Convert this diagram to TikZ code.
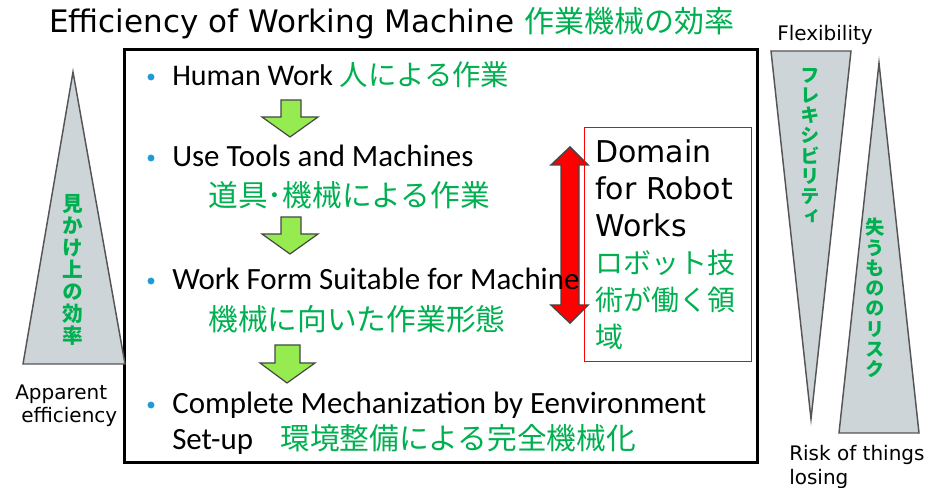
\documentclass[tikz,border=0pt]{standalone}
\usepackage{fontspec}
\setmainfont{DejaVu Sans}
\newfontfamily\dv{DejaVu Sans}
\newfontfamily\cb{Carlito}
\newfontfamily\jp{Noto Sans CJK JP}
\newfontfamily\jpv[RawFeature=+vert]{Noto Sans CJK JP}
\definecolor{jpgreen}{RGB}{0,176,80}
\definecolor{bulletblue}{RGB}{30,155,215}
\definecolor{trifill}{RGB}{205,213,217}
\definecolor{trisd}{RGB}{85,85,85}
\definecolor{arrgreen}{RGB}{150,235,80}
\definecolor{arrline}{RGB}{70,70,70}
\begin{document}
\begin{tikzpicture}[x=0.75pt,y=-0.75pt,
  txt/.style={inner sep=0pt, anchor=base west},
  entxt/.style={txt, font=\cb\fontsize{23.2}{27}\selectfont},
  jptxt/.style={txt, text=jpgreen, font=\jp\fontsize{22.3}{26}\selectfont},
  boxjp/.style={txt, text=jpgreen, font=\jp\fontsize{21}{25}\selectfont},
  sidetxt/.style={txt, font=\dv\fontsize{15}{18}\selectfont},
  bulletdot/.style={circle, fill=bulletblue, inner sep=0pt, minimum size=5.2pt},
  tri/.style={fill=trifill, draw=trisd, line width=1.1pt, line join=miter},
  greenarrow/.style={fill=arrgreen, draw=arrline, line width=0.9pt},
  vtext/.style={inner sep=0pt, align=center, text=jpgreen},
]
\useasboundingbox (0,0) rectangle (926,488);

% title
\node[txt, font=\dv\fontsize{23.25}{28}\selectfont] (title) at (49,33)
  {Efficiency of Working Machine {\jp\fontsize{22.5}{27}\selectfont\color{jpgreen}作業機械の効率}};

% main box
\draw[line width=2.25pt] (124,50) rectangle (757,463);

% left triangle
\draw[tri] (73,72) -- (125,364) -- (23,364) -- cycle;
\node[vtext, font=\jpv\bfseries\fontsize{15.5}{16.5}\selectfont] (lv) at (73,270)
  {見\\か\\け\\上\\の\\効\\率};
\node[sidetxt] (app) at (15,400) {Apparent};
\node[sidetxt] (eff) at (21,423) {efficiency};

% right triangles
\draw[tri] (771,51) -- (851,51) -- (811,419) -- cycle;
\draw[tri] (879,63) -- (919,433) -- (839,433) -- cycle;
\node[vtext, font=\jpv\bfseries\fontsize{14.5}{15.2}\selectfont] (flexv) at (810,146)
  {フ\\レ\\キ\\シ\\ビ\\リ\\テ\\ィ};
\node[vtext, font=\jpv\bfseries\fontsize{14.5}{15.2}\selectfont] (riskv) at (875,298)
  {失\\う\\も\\の\\の\\リ\\ス\\ク};
\node[sidetxt] (flex) at (777,41) {Flexibility};
\node[sidetxt] (risk) at (789,461) {Risk of things};
\node[sidetxt] (los) at (789,485) {losing};

% red double arrow (behind the text)
\draw[fill=red, draw=arrline, line width=1.1pt] (570,147) -- (588,165) -- (579,165)
  -- (579,305) -- (588,305) -- (570,323) -- (551,305) -- (561,305) -- (561,165)
  -- (551,165) -- cycle;

% bullet items
\node[bulletdot] (b1) at (151,77) {};
\node[txt, font=\cb\fontsize{22.5}{27}\selectfont] (l1) at (172,86)
  {Human Work {\jp\fontsize{21.3}{25}\selectfont\color{jpgreen}人による作業}};
\node[bulletdot] (b2) at (151,158) {};
\node[entxt] (l2) at (172,167) {Use Tools and Machines};
\node[jptxt] (l2j) at (208,207) {道具･機械による作業};
\node[bulletdot] (b3) at (151,281) {};
\node[entxt] (l3) at (172,290) {Work Form Suitable for Machine};
\node[jptxt] (l3j) at (208,331) {機械に向いた作業形態};
\node[bulletdot] (b4) at (151,405) {};
\node[entxt] (l4) at (172,414) {Complete Mechanization by Eenvironment};
\node[entxt] (l5) at (172,450) {Set-up};
\node[jptxt] (l5j) at (280,450) {環境整備による完全機械化};

% green block arrows
\draw[greenarrow] (281,100) -- (301,100) -- (301,117) -- (318,117) -- (290,137)
  -- (262,117) -- (281,117) -- cycle;
\draw[greenarrow] (281,217) -- (301,217) -- (301,234) -- (318,234) -- (290,254)
  -- (262,234) -- (281,234) -- cycle;
\draw[greenarrow] (275,345) -- (300,345) -- (300,363) -- (315,363) -- (287,383)
  -- (260,363) -- (275,363) -- cycle;

% red box
\draw[red, line width=0.75pt] (584,128) rectangle (751,362);
\node[txt, font=\dv\fontsize{22.5}{27}\selectfont] (d1) at (595,163) {Domain};
\node[txt, font=\dv\fontsize{22.5}{27}\selectfont] (d2) at (595,200) {for Robot};
\node[txt, font=\dv\fontsize{22.5}{27}\selectfont] (d3) at (595,237) {Works};
\node[boxjp] (d4) at (595,274) {ロボット技};
\node[boxjp] (d5) at (595,311) {術が働く領};
\node[boxjp] (d6) at (595,348) {域};
\end{tikzpicture}
\end{document}
